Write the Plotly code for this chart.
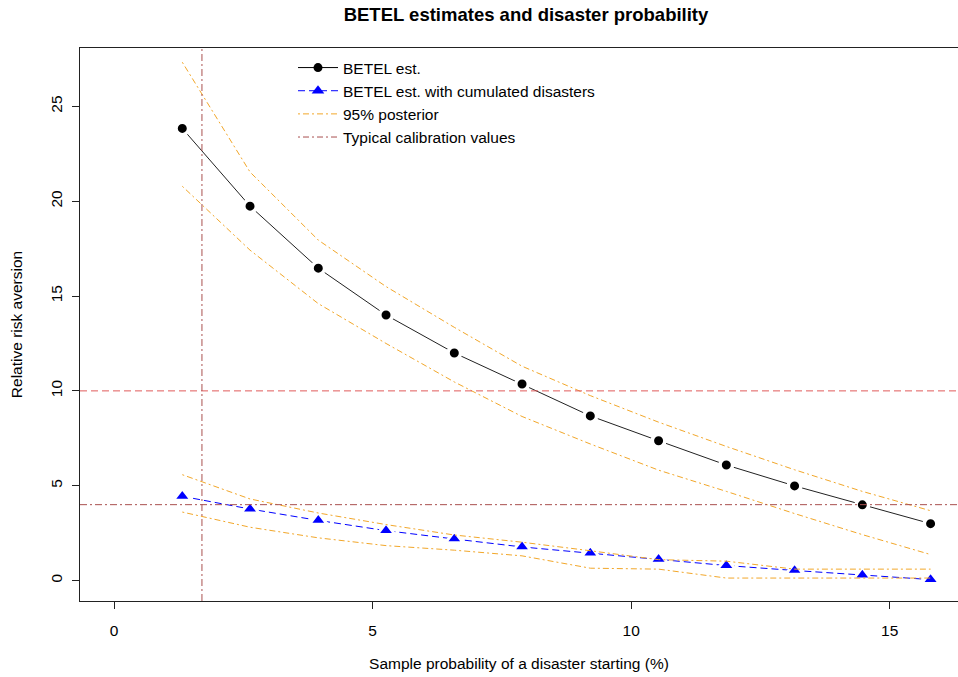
import plotly.graph_objects as go

# ---- data ----
disaster_prob = [1.32, 2.63, 3.95, 5.26, 6.58, 7.89, 9.21, 10.53, 11.84, 13.16, 14.47, 15.79]

betel_est = [23.84, 19.74, 16.47, 14.0, 12.0, 10.36, 8.68, 7.37, 6.09, 4.99, 3.99, 3.0]
betel_upper = [27.33, 21.54, 17.95, 15.5, 13.35, 11.3, 9.75, 8.35, 7.07, 5.84, 4.7, 3.68]
betel_lower = [20.79, 17.42, 14.6, 12.5, 10.47, 8.65, 7.2, 5.82, 4.7, 3.53, 2.42, 1.37]

cum_est = [4.44, 3.77, 3.17, 2.63, 2.19, 1.77, 1.44, 1.12, 0.79, 0.53, 0.28, 0.05]
cum_upper = [5.58, 4.3, 3.56, 2.95, 2.4, 2.02, 1.57, 1.1, 1.02, 0.6, 0.6, 0.6]
cum_lower = [3.61, 2.81, 2.25, 1.84, 1.6, 1.3, 0.65, 0.6, 0.13, 0.13, 0.13, 0.13]

calib_rra_high = 10
calib_rra_low = 4
calib_prob = 1.7

x_ticks = [0, 5, 10, 15]
y_ticks = [0, 5, 10, 15, 20, 25]

title = "BETEL estimates and disaster probability"
x_title = "Sample probability of a disaster starting (%)"
y_title = "Relative risk aversion"

# ---- styles ----
FONT = "Liberation Sans, Arial, Helvetica, sans-serif"
FS = 15.5
ORANGE = "#F2A72A"
BLUE = "#0000FF"
BROWN = "#A9504F"
RED = "#E05A5A"
DOTDASH = "2px,3px,6px,3px"

fig = go.Figure()

# black BETEL estimate (white halo emulates R's type="b" gaps)
fig.add_trace(go.Scatter(
    x=disaster_prob, y=betel_est, mode="lines+markers",
    line=dict(color="#222222", width=1),
    marker=dict(symbol="circle", size=12.5, color="black",
                line=dict(color="white", width=3.5)),
    showlegend=False, hoverinfo="skip"))

fig.add_trace(go.Scatter(
    x=disaster_prob, y=cum_est, mode="lines+markers",
    line=dict(color=BLUE, width=1, dash="7px,4px"),
    marker=dict(symbol="triangle-up", size=15.5, color=BLUE,
                line=dict(color="white", width=3)),
    showlegend=False, hoverinfo="skip"))

for band in (betel_upper, betel_lower, cum_upper, cum_lower):
    fig.add_trace(go.Scatter(
        x=disaster_prob, y=band, mode="lines",
        line=dict(color=ORANGE, width=1, dash=DOTDASH),
        showlegend=False, hoverinfo="skip"))

# legend entries
fig.add_trace(go.Scatter(
    x=[None], y=[None], mode="lines+markers", name="BETEL est.",
    line=dict(color="black", width=1),
    marker=dict(symbol="circle", size=9, color="black")))
fig.add_trace(go.Scatter(
    x=[None], y=[None], mode="lines+markers",
    name="BETEL est. with cumulated disasters",
    line=dict(color=BLUE, width=1, dash="7px,4px"),
    marker=dict(symbol="triangle-up", size=11, color=BLUE)))
fig.add_trace(go.Scatter(
    x=[None], y=[None], mode="lines", name="95% posterior",
    line=dict(color=ORANGE, width=1, dash=DOTDASH)))
fig.add_trace(go.Scatter(
    x=[None], y=[None], mode="lines", name="Typical calibration values",
    line=dict(color=BROWN, width=1, dash=DOTDASH)))

# calibration reference lines
fig.add_shape(type="line", xref="paper", yref="y", x0=0, x1=1,
              y0=calib_rra_high, y1=calib_rra_high,
              line=dict(color=RED, width=1, dash="7px,4px"), layer="above")
fig.add_shape(type="line", xref="paper", yref="y", x0=0, x1=1,
              y0=calib_rra_low, y1=calib_rra_low,
              line=dict(color=BROWN, width=1, dash="7px,3px,2px,3px"), layer="above")
fig.add_shape(type="line", xref="x", yref="paper", x0=calib_prob, x1=calib_prob,
              y0=0, y1=1,
              line=dict(color=BROWN, width=1, dash="7px,3px,2px,3px"), layer="above")

fig.update_layout(
    width=958, height=677,
    margin=dict(l=80, r=0, t=48, b=76),
    paper_bgcolor="white", plot_bgcolor="white",
    font=dict(family=FONT, size=FS, color="black"),
    title=dict(text="<b>" + title + "</b>", x=(80 + 972) / 2 / 958, xanchor="center",
               y=1 - 15 / 677, yanchor="middle",
               font=dict(family=FONT, size=18.5, color="black")),
    legend=dict(x=(293 - 80) / 878, y=1 - (51 - 48) / 553, xanchor="left", yanchor="top",
                bgcolor="rgba(0,0,0,0)", font=dict(family=FONT, size=FS),
                tracegroupgap=0, itemwidth=40),
    showlegend=True,
)

fig.update_xaxes(
    range=[-0.658, 16.32], tickvals=x_ticks, ticktext=[str(v) for v in x_ticks],
    showgrid=False, zeroline=False, showline=True, linecolor="#222222", linewidth=1,
    mirror=True, ticks="outside", ticklen=7, tickcolor="#222222",
    ticklabelstandoff=8, tickfont=dict(size=FS),
    title=dict(text=x_title, standoff=20, font=dict(family=FONT, size=FS)),
)
fig.update_yaxes(
    range=[-1.08, 28.08], tickvals=y_ticks, ticktext=[str(v) for v in y_ticks],
    showgrid=False, zeroline=False, showline=True, linecolor="#222222", linewidth=1,
    mirror=False, ticks="outside", ticklen=7, tickcolor="#222222",
    tickangle=-90, ticklabelstandoff=4, tickfont=dict(size=FS),
    title=dict(text=y_title, standoff=21, font=dict(family=FONT, size=FS)),
)

fig.write_html("out.html")
